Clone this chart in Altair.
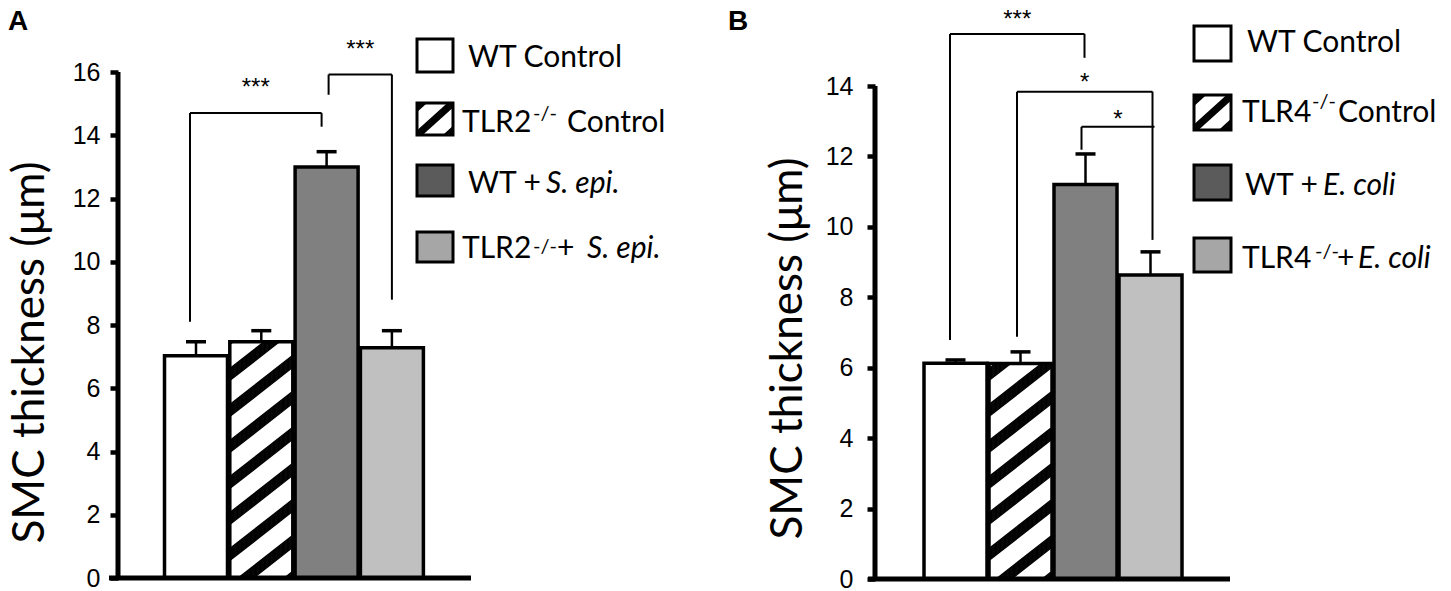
import math
import altair as alt
import pandas as pd

# ---------------- data ----------------
groups_A = ["WT Control", "TLR2-/- Control", "WT + S. epi.", "TLR2-/- + S. epi."]
means_A = [7.03, 7.47, 13.00, 7.28]
sem_A = [0.44, 0.35, 0.48, 0.54]

groups_B = ["WT Control", "TLR4-/- Control", "WT + E. coli", "TLR4-/- + E. coli"]
means_B = [6.13, 6.12, 11.20, 8.63]
sem_B = [0.09, 0.33, 0.87, 0.66]

bar_fills = ["#ffffff", "#ffffff", "#808080", "#c0c0c0"]
legend_fills = ["#ffffff", "#ffffff", "#5b5b5b", "#a6a6a6"]
hatched_bar = 2  # position of the striped bar

y_ticks_A = [0, 2, 4, 6, 8, 10, 12, 14, 16]
y_ticks_B = [0, 2, 4, 6, 8, 10, 12, 14]

# significance brackets
sig_A_from = [1, 3]
sig_A_to = [3, 4]
sig_A_level = [14.70, 15.92]
sig_A_from_end = [8.10, 15.28]
sig_A_to_end = [14.27, 8.80]
sig_A_label = ["***", "***"]

sig_B_from = [1, 2, 3]
sig_B_to = [3, 4, 4]
sig_B_level = [15.48, 13.84, 12.84]
sig_B_from_end = [6.79, 6.88, 12.19]
sig_B_to_end = [14.80, 9.63, 12.84]
sig_B_label = ["***", "*", "*"]

# legend texts: (text, style)  n = normal, i = italic, s = superscript
legend_A_rows = [
    [("WT Control", "n")],
    [("TLR2", "n"), ("-/-", "s"), ("Control", "n")],
    [("WT +", "n"), ("S. epi.", "i")],
    [("TLR2", "n"), ("-/-", "s"), ("+", "n"), ("S. epi.", "i")],
]
legend_B_rows = [
    [("WT Control", "n")],
    [("TLR4", "n"), ("-/-", "s"), ("Control", "n")],
    [("WT +", "n"), ("E. coli", "i")],
    [("TLR4", "n"), ("-/-", "s"), ("+", "n"), ("E. coli", "i")],
]

Y_TITLE = "SMC thickness (μm)"

# ---------------- layout (pixels, relative to each plot area) ----------------
LAYOUT_A = dict(
    letter="A", H=506, W=582, ytop=16, ppy=506 / 16, ppu=65.3, c0=78.0,
    base_x=(-9, 353), label_xy=(-110, -42), label_pad=10, title_pad=20, title_y=280,
    box_x=(299, 335), box_y=[(-33, 0), (31, 63), (93, 124), (160, 190)],
    leg_x=[[350], [344, 415, 449], [350, 428], [344, 415, 439, 469]],
    leg_y=[[-5], [60, 48, 60], [121, 121], [186, 181, 186, 186]],
    leg_dx=[(-6, -5), (2, 0)], star_gap=[17.7, 17.7],
)
LAYOUT_B = dict(
    letter="B", H=507, W=565, ytop=14, ppy=493 / 14, ppu=65.0, c0=80.5,
    base_x=(-7, 355), label_xy=(-147, -42), label_pad=14, title_pad=15, title_y=276,
    box_x=(319, 356), box_y=[(-46, -11), (23, 58), (93, 128), (166, 200)],
    leg_x=[[372], [367, 437, 463], [370, 448], [367, 440, 462, 483]],
    leg_y=[[-20], [50, 36, 50], [123, 123], [196, 186, 196, 196]],
    leg_dx=[(-5.5, -1), (-3.5, 2), (-4, 4)], star_gap=[6.7, 1.7, -0.3],
)

BAR_HALF = 31.5
CAP_HALF = 10


def hatch_segments(x0, x1, ytop, ybot, period, thick, slope, phase, step=1.0):
    """Diagonal stripes (pixel space) as thin parallel segments clipped to a box."""
    segs = []
    cmin = ytop - thick - period
    cmax = ybot + slope * (x1 - x0) + period
    k0 = math.floor((cmin - phase) / period)
    k1 = math.ceil((cmax - phase) / period)
    for k in range(k0, k1 + 1):
        c = phase + k * period
        o = step / 2
        while o < thick:
            cc = c + o
            xa = max(x0, x0 + (cc - ybot) / slope)
            xb = min(x1, x0 + (cc - ytop) / slope)
            if xb > xa + 0.2:
                segs.append((xa, cc - slope * (xa - x0), xb, cc - slope * (xb - x0)))
            o += step
    return segs


def make_panel(L, groups, means, sems, sig_from, sig_to, sig_level, sig_from_end,
               sig_to_end, sig_label, yticks, legend_rows):
    H, W, ppy, ppu = L["H"], L["W"], L["ppy"], L["ppu"]
    dmin = 1 - L["c0"] / ppu

    def xd(px):
        return dmin + px / ppu

    def yd(py):
        return (H - py) / ppy

    def xp(pos):
        return L["c0"] + (pos - 1) * ppu

    xs = alt.Scale(domain=[dmin, dmin + W / ppu], nice=False, zero=False)
    ys = alt.Scale(domain=[0, H / ppy], nice=False)
    yaxis = alt.Axis(
        values=yticks, title=Y_TITLE, grid=False, domain=False,
        tickColor="black", tickWidth=4.5,
        tickSize=8, labelFont="Liberation Sans", labelFontSize=25,
        labelColor="black", labelPadding=L["label_pad"],
        titleFont="Lato", titleFontSize=44, titleFontWeight="normal",
        titleColor="black", titlePadding=L["title_pad"], titleY=L["title_y"],
    )

    def X(f):
        return alt.X(f, type="quantitative", scale=xs, axis=None)

    def Y(f):
        return alt.Y(f, type="quantitative", scale=ys, axis=yaxis, stack=None)

    n = len(groups)
    bars = pd.DataFrame({
        "group": groups, "mean": means, "sem": sems,
        "fill": bar_fills[:n], "pos": list(range(1, n + 1)),
    })
    bars["x0"] = bars["pos"] - BAR_HALF / ppu
    bars["x1"] = bars["pos"] + BAR_HALF / ppu
    bars["c0"] = bars["pos"] - CAP_HALF / ppu
    bars["c1"] = bars["pos"] + CAP_HALF / ppu
    bars["top"] = bars["mean"] + bars["sem"]
    bars["zero"] = 0.0

    base = alt.Chart(bars)
    bar_fill = base.mark_rect().encode(
        x=X("x0"), x2="x1", y=Y("zero"), y2="mean",
        fill=alt.Fill("fill:N", scale=None))
    err_line = base.mark_rule(color="black", strokeWidth=2.5).encode(
        x=X("pos"), y=Y("mean"), y2="top")
    err_cap = base.mark_rule(color="black", strokeWidth=3.5).encode(
        x=X("c0"), x2="c1", y=Y("top"))
    bar_outline = base.mark_rect(fillOpacity=0, stroke="black", strokeWidth=3.5).encode(
        x=X("x0"), x2="x1", y=Y("zero"), y2="mean")

    def seg_frame(segs):
        return pd.DataFrame({
            "xa": [xd(s[0]) for s in segs], "ya": [yd(s[1]) for s in segs],
            "xb": [xd(s[2]) for s in segs], "yb": [yd(s[3]) for s in segs],
        })

    # stripes of the hatched bar
    hb = hatched_bar
    m = means[hb - 1]
    bx0, bx1 = xp(hb) - BAR_HALF, xp(hb) + BAR_HALF
    bar_hatch = alt.Chart(seg_frame(hatch_segments(
        bx0, bx1, H - m * ppy, H, 36, 13, 0.78, 8))).mark_rule(
        color="black", strokeWidth=1.3).encode(
        x=X("xa"), x2="xb", y=Y("ya"), y2="yb")

    # y axis line and baseline
    axis_line = alt.Chart(pd.DataFrame({"lo": [0.0], "hi": [float(L["ytop"])]})).mark_rule(
        color="black", strokeWidth=5).encode(x=alt.value(0), y=Y("lo"), y2="hi")
    baseline = alt.Chart(pd.DataFrame({"zero": [0.0]})).mark_rule(
        color="black", strokeWidth=5).encode(
        x=alt.value(L["base_x"][0]), x2=alt.value(L["base_x"][1]), y=Y("zero"))

    # significance brackets
    segs, stars = [], []
    for j in range(len(sig_from)):
        dl, dr = L["leg_dx"][j]
        xa = sig_from[j] + dl / ppu
        xb = sig_to[j] + dr / ppu
        lv = sig_level[j]
        segs.append({"xa": xa, "xb": xb, "ya": lv, "yb": lv})
        segs.append({"xa": xa, "xb": xa, "ya": lv, "yb": sig_from_end[j]})
        segs.append({"xa": xb, "xb": xb, "ya": lv, "yb": sig_to_end[j]})
        stars.append({"sx": (xa + xb) / 2, "sy": lv + L["star_gap"][j] / ppy,
                      "label": sig_label[j]})
    seg_layer = alt.Chart(pd.DataFrame(segs)).mark_rule(
        color="black", strokeWidth=2).encode(
        x=X("xa"), x2="xb", y=Y("ya"), y2="yb")
    star_layer = alt.Chart(pd.DataFrame(stars)).mark_text(
        font="Liberation Sans", fontSize=24, color="black",
        align="center", baseline="alphabetic").encode(
        x=X("sx"), y=Y("sy"), text="label:N")

    # legend
    sx0, sx1 = L["box_x"]
    boxes = pd.DataFrame({
        "x0": [xd(sx0)] * n, "x1": [xd(sx1)] * n,
        "y0": [yd(b[0]) for b in L["box_y"]],
        "y1": [yd(b[1]) for b in L["box_y"]],
        "fill": legend_fills[:n],
    })
    box_fill = alt.Chart(boxes).mark_rect().encode(
        x=X("x0"), x2="x1", y=Y("y0"), y2="y1",
        fill=alt.Fill("fill:N", scale=None))
    sy0, sy1 = L["box_y"][hb - 1]
    sc = (sx0 + sx1) / 2
    scy = (sy0 + sy1) / 2
    ph = (scy + 0.9 * (sc - sx0) - 4.5) % 28
    leg_hatch = alt.Chart(seg_frame(hatch_segments(
        sx0, sx1, sy0, sy1, 28, 9, 0.9, ph))).mark_rule(
        color="black", strokeWidth=1.3).encode(
        x=X("xa"), x2="xb", y=Y("ya"), y2="yb")
    box_outline = alt.Chart(boxes).mark_rect(
        fillOpacity=0, stroke="black", strokeWidth=3).encode(
        x=X("x0"), x2="x1", y=Y("y0"), y2="y1")

    pieces = {"n": [], "i": [], "s": []}
    for r, row in enumerate(legend_rows):
        for p, (txt, sty) in enumerate(row):
            pieces[sty].append({"tx": xd(L["leg_x"][r][p]),
                                "ty": yd(L["leg_y"][r][p]), "text": txt})
    text_layers = []
    for sty, size, fstyle in (("n", 30, "normal"), ("i", 30, "italic"), ("s", 20, "normal")):
        text_layers.append(alt.Chart(pd.DataFrame(pieces[sty])).mark_text(
            font="Lato", fontSize=size, fontStyle=fstyle, color="black",
            align="left", baseline="alphabetic").encode(
            x=X("tx"), y=Y("ty"), text="text:N"))

    letter = alt.Chart(pd.DataFrame({"t": [L["letter"]]})).mark_text(
        font="Liberation Sans", fontSize=28, fontWeight="bold", color="black",
        align="left", baseline="alphabetic").encode(
        x=alt.value(L["label_xy"][0]), y=alt.value(L["label_xy"][1]), text="t:N")

    return alt.layer(
        bar_fill, err_line, err_cap, bar_hatch, bar_outline, axis_line, baseline,
        seg_layer, star_layer, box_fill, leg_hatch, box_outline,
        *text_layers, letter,
    ).properties(width=W, height=H)


panel_A = make_panel(LAYOUT_A, groups_A, means_A, sem_A, sig_A_from, sig_A_to,
                     sig_A_level, sig_A_from_end, sig_A_to_end, sig_A_label,
                     y_ticks_A, legend_A_rows)
panel_B = make_panel(LAYOUT_B, groups_B, means_B, sem_B, sig_B_from, sig_B_to,
                     sig_B_level, sig_B_from_end, sig_B_to_end, sig_B_label,
                     y_ticks_B, legend_B_rows)

chart = alt.hconcat(panel_A, panel_B, spacing=28).properties(
    padding=0, background="white").configure_view(stroke=None)

chart.save("out.html", embed_options={"renderer": "svg", "actions": False})
